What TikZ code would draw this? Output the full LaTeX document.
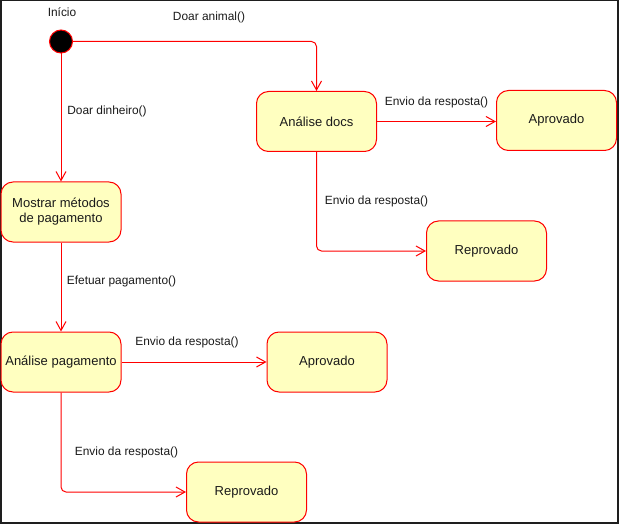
\documentclass[tikz,border=0pt]{standalone}
\usepackage{fontspec}
\setmainfont{Liberation Sans}
\usetikzlibrary{arrows.meta}

\definecolor{stateFill}{RGB}{255,255,192}
\definecolor{stateLine}{RGB}{255,0,0}
\definecolor{frameDark}{RGB}{30,30,30}
\definecolor{txt}{RGB}{26,26,26}

\tikzset{
	state/.style={draw=stateLine, fill=stateFill, rounded corners=12pt, line width=1pt,
		minimum width=120pt, minimum height=60pt, align=center, text=txt,
		font=\fontsize{13}{15}\selectfont},
	trans/.style={draw=stateLine, line width=1pt, rounded corners=5pt,
		-{Straight Barb[length=9pt,width=10pt,line width=1pt]}},
	lbl/.style={text=txt, font=\fontsize{11.9}{14}\selectfont, inner sep=0pt}
}

\begin{document}
\begin{tikzpicture}[x=1pt, y=-1pt]
		\useasboundingbox (0,0) rectangle (619,524);
		\fill[frameDark] (0,0) rectangle (619,524);
		\fill[white] (1.5,1) rectangle (616.5,521.5);

		% estados
		\node[circle, draw=stateLine, fill=black, line width=1pt, minimum size=23pt, inner sep=0pt] (inicio) at (61,41.5) {};
		\node[lbl] (inicioLbl) at (62,12) {Início};
		\node[state] (docs) at (316.5,121.5) {Análise docs};
		\node[state] (docsOk) at (556.5,120.5) {Aprovado};
		\node[state] (docsNok) at (486.5,251) {Reprovado};
		\node[state] (metodos) at (61,212) {Mostrar métodos\\de pagamento};
		\node[state] (pagto) at (61,362) {Análise pagamento};
		\node[state] (pagtoOk) at (327,362) {Aprovado};
		\node[state] (pagtoNok) at (246.5,492) {Reprovado};

		% transicoes
		\draw[trans] (inicio.east) -| (docs.north);
		\draw[trans] (inicio.south) -- (metodos.north);
		\draw[trans] (metodos.south) -- (pagto.north);
		\draw[trans] (docs.east) -- (docs.east -| docsOk.west);
		\draw[trans] (docs.south) |- (docsNok.west);
		\draw[trans] (pagto.east) -- (pagtoOk.west);
		\draw[trans] (pagto.south) |- (pagtoNok.west);

		% rotulos
		\node[lbl] (lblAnimal) at (209,17) {Doar animal()};
		\node[lbl] (lblDinheiro) at (107,111.5) {Doar dinheiro()};
		\node[lbl] (lblEfetuar) at (121.5,281.5) {Efetuar pagamento()};
		\node[lbl] (lblDocsOk) at (436.5,102) {Envio da resposta()};
		\node[lbl] (lblDocsNok) at (376.5,201.5) {Envio da resposta()};
		\node[lbl] (lblPagtoOk) at (187,342) {Envio da resposta()};
		\node[lbl] (lblPagtoNok) at (126.5,452) {Envio da resposta()};
	\end{tikzpicture}
\end{document}
